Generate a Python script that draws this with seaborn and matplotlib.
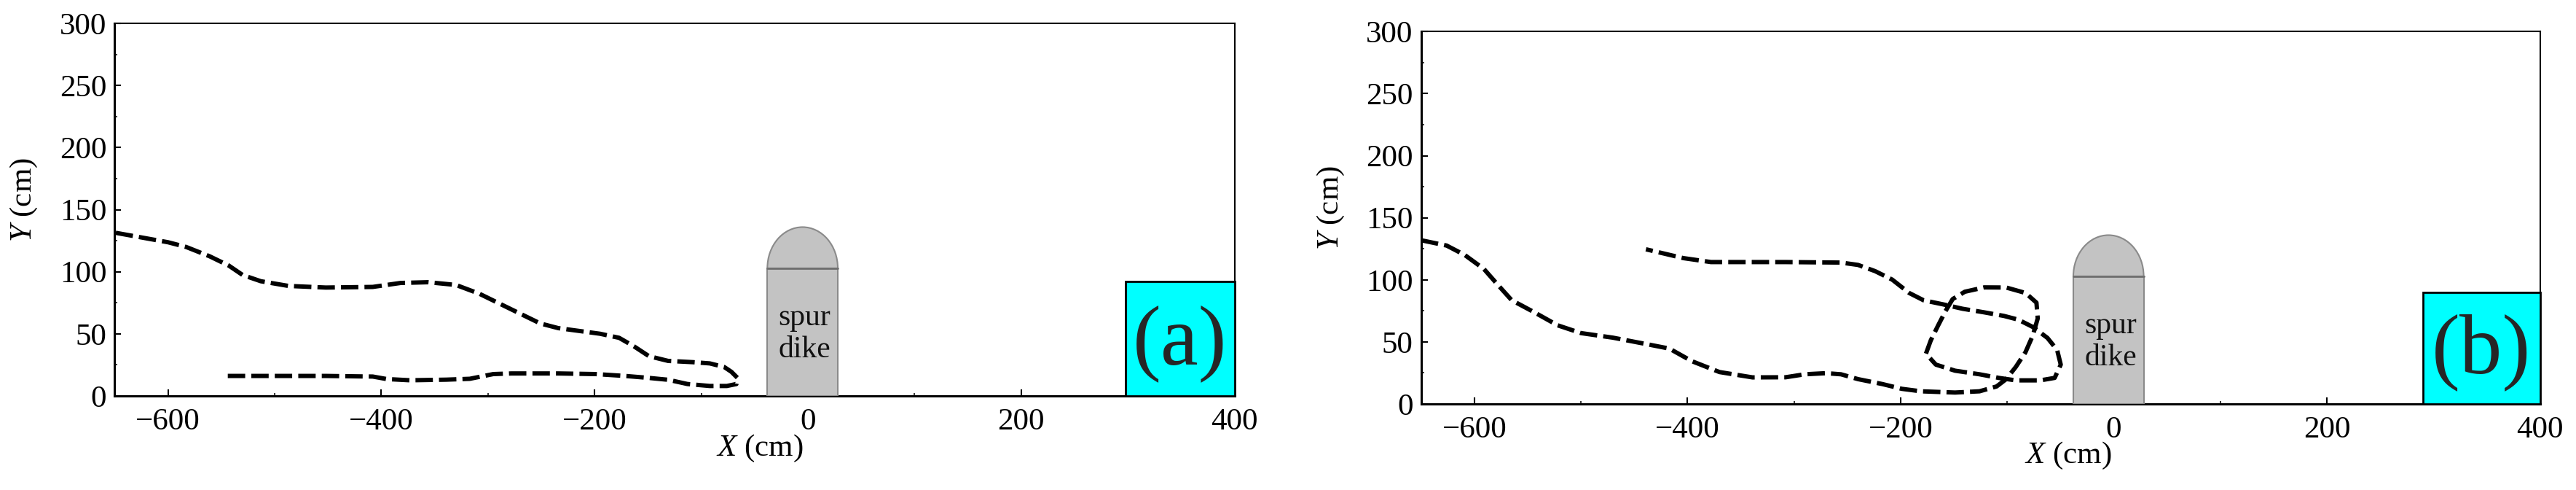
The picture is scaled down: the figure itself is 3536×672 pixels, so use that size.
import numpy as np
import pandas as pd
import matplotlib
matplotlib.use('Agg')
import matplotlib.pyplot as plt
from matplotlib.patches import Rectangle, Ellipse
import seaborn as sns

# trajectory data (cm)
traj_a_x = [-649, -600, -583, -561, -543, -530, -513, -487, -452, -408, -382,
            -356, -330, -308, -278, -251, -234, -195, -177, -163, -149, -131,
            -108, -92, -78.5, -71.7, -66, -67, -76, -92, -113, -131, -149,
            -170, -199, -234, -278, -295, -317, -339, -373, -395, -408, -452,
            -495, -546]
traj_a_y = [131.4, 123.8, 120, 112.5, 105, 97.4, 92.4, 88.6, 87.3, 87.8, 91,
            91.6, 89.4, 82.3, 69.7, 58.4, 54.6, 50.1, 46.8, 39.9, 32, 28.2,
            27.2, 26.2, 23.3, 19.4, 14.5, 9.6, 8, 8, 9.6, 13, 14.5,
            16, 17.6, 18.1, 18.1, 17.6, 13.8, 13.1, 12.6, 13.6, 15.6, 16.1,
            16.1, 16.1]

traj_b_x = [-650, -626, -609, -591, -578, -565, -543, -522, -500, -470, -439,
            -417, -396, -370, -339, -308, -290, -270, -256, -240, -217, -199,
            -181, -149, -126, -110, -101, -92, -83, -76, -71.4, -72.6, -82.8,
            -101, -121.6, -139.8, -151.2, -158, -165, -171.7, -176.3, -167,
            -149, -126, -108, -92, -69, -55.5, -49.8, -53.2, -62.3, -76,
            -89.6, -103, -121.6, -142, -160, -178.5, -192, -208, -224, -240,
            -256, -308, -378, -404, -439]
traj_b_y = [131.9, 127.6, 120, 108.7, 96, 83.6, 73.5, 63.4, 57.1, 53.4, 48.3,
            44.6, 34.5, 25.7, 21.4, 21.5, 23.9, 24.8, 23.9, 20, 16, 12.2,
            10.2, 9.2, 10.2, 14.1, 20, 29.8, 41.5, 55.2, 68.9, 81.6, 89.4,
            93.8, 93.9, 90.4, 84.5, 74.7, 63, 51.3, 40.5, 31.7,
            26.8, 23.9, 21, 19, 19, 21, 31.7, 43.5, 53.2, 62,
            67.9, 70.9, 73.8, 76.7, 80.2, 83.5, 89.4, 100.2, 107, 112,
            113.9, 114.3, 114.3, 117.5, 124.6]

panel_labels = ['(a)', '(b)']
label_box_x0 = [298, 290]
label_box_top = [92, 90]

x_ticks = [-600, -400, -200, 0, 200, 400]
y_ticks = [0, 50, 100, 150, 200, 250, 300]

# spur dike outline (cm)
dike_x0, dike_x1 = -38, 28
dike_h, dike_cap = 103, 33

sns.set_theme(style='ticks')
plt.rcParams['font.family'] = ['Liberation Serif', 'DejaVu Serif']
plt.rcParams['mathtext.fontset'] = 'custom'
plt.rcParams['mathtext.rm'] = 'Liberation Serif'
plt.rcParams['mathtext.it'] = 'Liberation Serif:italic'

fig = plt.figure(figsize=(35.37, 6.72), dpi=100)
axes = [fig.add_axes([0.0445, 0.192, 0.4346, 0.760]),
        fig.add_axes([0.5515, 0.1756, 0.4343, 0.760])]
trajs = [(traj_a_x, traj_a_y), (traj_b_x, traj_b_y)]
xlab_pos = [(0.576, -0.10), (0.578, -0.098)]
ylab_pos = [(-0.0673, 0.526), (-0.0667, 0.526)]

for i, ax in enumerate(axes):
    tx, ty = trajs[i]
    df = pd.DataFrame({'x': tx, 'y': ty})
    sns.lineplot(data=df, x='x', y='y', sort=False, estimator=None,
                 color='black', lw=4.3, ax=ax, zorder=5)
    ax.lines[-1].set_dashes([4.0, 1.4])

    # spur dike
    cx = (dike_x0 + dike_x1) / 2
    ax.add_patch(Ellipse((cx, dike_h), dike_x1 - dike_x0, 2 * dike_cap,
                         facecolor='#c3c3c3', edgecolor='#8a8a8a', lw=1.5,
                         zorder=2))
    ax.add_patch(Rectangle((dike_x0, 0), dike_x1 - dike_x0, dike_h,
                           facecolor='#c3c3c3', edgecolor='#8a8a8a', lw=1.5,
                           zorder=3))
    ax.plot([dike_x0, dike_x1], [dike_h, dike_h], color='#6e6e6e', lw=2,
            zorder=4)
    ax.text(cx + 2, 50, 'spur\ndike', ha='center', va='center', fontsize=30,
            linespacing=1.2, color='#111111', zorder=6)

    # panel label box
    ax.add_patch(Rectangle((label_box_x0[i], 0), 400 - label_box_x0[i],
                           label_box_top[i], facecolor='#00ffff',
                           edgecolor='black', lw=2, zorder=7, clip_on=False))
    ax.text((label_box_x0[i] + 400) / 2, label_box_top[i] * 0.46,
            panel_labels[i], ha='center', va='center', fontsize=84, zorder=8)

    ax.set_xlim(-650, 400)
    ax.set_ylim(0, 300)
    ax.set_xticks(x_ticks)
    ax.set_yticks(y_ticks)
    ax.set_xticks(np.arange(-500, 400, 200), minor=True)
    ax.set_yticks(np.arange(25, 300, 50), minor=True)
    ax.tick_params(which='major', direction='in', length=6.5, width=1.5,
                   labelsize=31, colors='black', pad=8)
    ax.tick_params(axis='x', which='major', pad=12)
    ax.tick_params(which='minor', direction='in', length=3, width=1.3)
    for s in ax.spines.values():
        s.set_color('black')
        s.set_linewidth(1.5)
    ax.spines['bottom'].set_linewidth(2.2)
    ax.spines['left'].set_linewidth(2.2)
    ax.set_facecolor('white')

    ax.set_xlabel('$X$ (cm)', fontsize=31, color='black')
    ax.set_ylabel('$Y$ (cm)', fontsize=31, color='black')
    ax.xaxis.set_label_coords(*xlab_pos[i])
    ax.yaxis.set_label_coords(*ylab_pos[i])

fig.savefig('out.png', dpi=100, facecolor='white')
